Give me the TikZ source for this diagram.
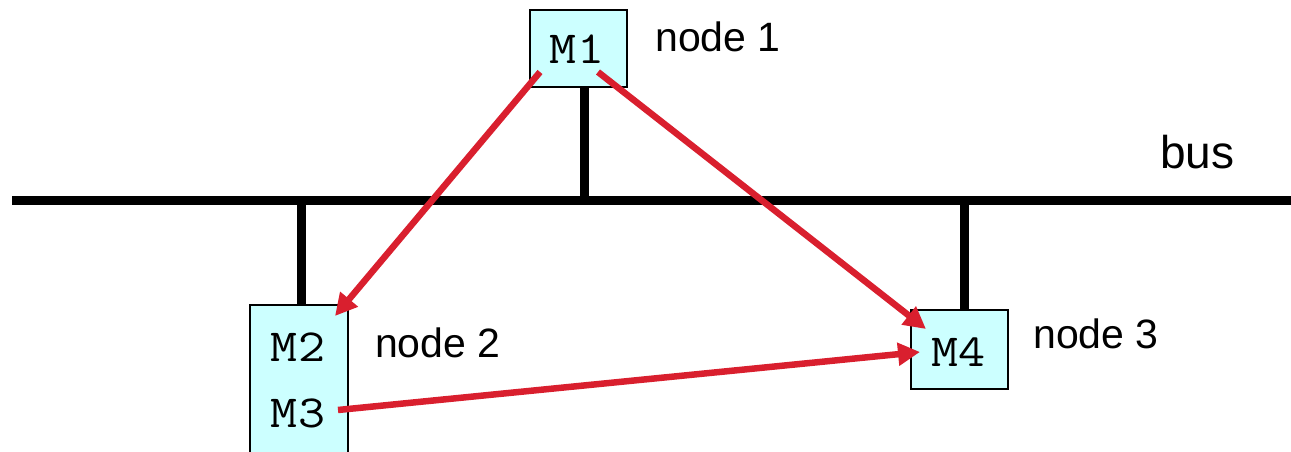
\documentclass[tikz,border=0pt]{standalone}
\usepackage{fontspec}
\setmainfont{Liberation Sans}
\newfontfamily\modfont[FakeStretch=1.14]{Latin Modern Mono}
\usetikzlibrary{arrows.meta}
\definecolor{boxfill}{HTML}{CCFFFF}
\definecolor{msgred}{HTML}{D91F2E}
\begin{document}
\begin{tikzpicture}[x=1pt,y=-1pt,
  box/.style={draw=black,line width=1.6pt,fill=boxfill},
  label/.style={font=\fontsize{41}{41}\selectfont,anchor=base west,inner sep=0pt},
  modname/.style={font=\modfont\fontsize{46}{46}\selectfont,inner sep=0pt},
  wire/.style={line width=9pt},
  msg/.style={draw=msgred,line width=6.5pt,-{Triangle[length=22pt,width=22pt]}}]
\useasboundingbox (0,0) rectangle (1291,452);
% bus line and stems
\draw[wire] (12,200) -- (1291,200);
\coordinate (s1) at (584,200);
\coordinate (s2) at (301,200);
\coordinate (s3) at (964,200);
% computing nodes
\draw[box] (530,10) rectangle (627,87);
\coordinate (b1) at (584,87);
\draw[box] (250,305) rectangle (348,460);
\coordinate (b2) at (301,305);
\draw[box] (911,310) rectangle (1008,389);
\coordinate (b3) at (964,310);
\draw[wire] (s1) -- (b1);
\draw[wire] (s2) -- (b2);
\draw[wire] (s3) -- (b3);
% module names
\node[modname] (m1) at (577,49) {M1};
\node[modname] (m2) at (298,347) {M2};
\node[modname] (m3) at (298,413) {M3};
\node[modname] (m4) at (958,352) {M4};
% labels
\node[label] (l1) at (655,52) {node 1};
\node[label] (l2) at (375,357) {node 2};
\node[label] (l3) at (1033,348) {node 3};
\node[label,font=\fontsize{46}{46}\selectfont] (lb) at (1160,168) {bus};
% messages
\coordinate (a1) at (540,72);
\coordinate (a2) at (335,316);
\coordinate (a3) at (598,72);
\coordinate (a4) at (926,329);
\coordinate (a5) at (338,410);
\coordinate (a6) at (920,352);
\draw[msg] (a1) -- (a2);
\draw[msg] (a3) -- (a4);
\draw[msg] (a5) -- (a6);
\end{tikzpicture}
\end{document}
